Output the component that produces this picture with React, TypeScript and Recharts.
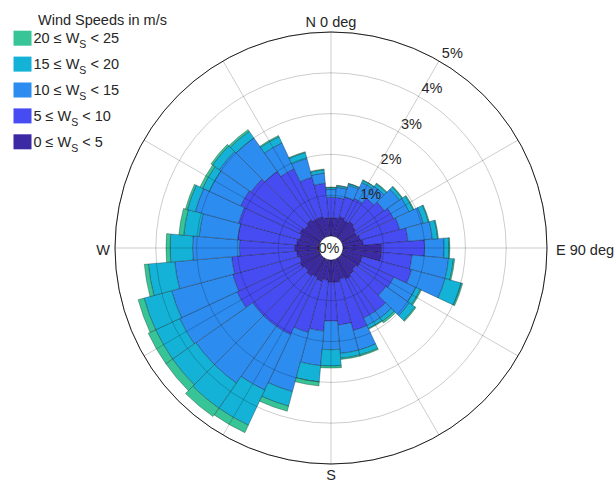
import React from 'react';
import {
  RadialBarChart,
  RadialBar,
  PolarAngleAxis,
  PolarRadiusAxis,
  PolarGrid,
} from 'recharts';

// Direction bins (compass degrees, bin centres)
const directions = [
  0, 10, 20, 30, 40, 50, 60, 70, 80, 90, 100, 110, 120, 130, 140, 150, 160, 170,
  180, 190, 200, 210, 220, 230, 240, 250, 260, 270, 280, 290, 300, 310, 320, 330, 340, 350,
];

// Frequency (%) of each speed class per direction
const speed0to5 = [
  0.45, 0.45, 0.5, 0.45, 0.5, 0.45, 0.4, 0.45, 0.5, 0.95, 0.95, 0.5, 0.5, 0.45, 0.5, 0.55, 0.5, 0.55,
  0.55, 0.5, 0.55, 0.5, 0.55, 0.5, 0.55, 0.5, 0.55, 0.6, 0.55, 0.5, 0.55, 0.5, 0.55, 0.5, 0.5, 0.45,
];
const speed5to10 = [
  0.5, 0.5, 0.5, 0.6, 0.7, 0.85, 1.0, 1.0, 1.1, 1.05, 0.75, 1.25, 0.9, 0.9, 1.1, 1.05, 1.3, 1.05,
  0.95, 1.25, 1.3, 1.55, 1.5, 1.55, 1.7, 1.7, 1.6, 1.35, 1.45, 1.55, 1.6, 1.6, 1.45, 1.35, 1.0, 0.85,
];
const speed10to15 = [
  0.2, 0.25, 0.3, 0.43, 0.35, 0.45, 0.42, 0.6, 0.6, 0.48, 0.9, 0.85, 0.6, 0.7, 0.2, 0.2, 0.5, 0.7,
  0.7, 0.85, 1.5, 1.5, 1.7, 1.7, 1.55, 1.55, 1.4, 1.15, 0.95, 1.1, 0.85, 0.95, 1.0, 0.7, 0.48, 0.25,
];
const speed15to20 = [
  0.04, 0.04, 0.04, 0.06, 0.08, 0.08, 0.11, 0.13, 0.13, 0.12, 0.12, 0.42, 0.12, 0.17, 0.1, 0.08, 0.12, 0.12,
  0.4, 0.4, 0.37, 0.95, 0.75, 0.7, 0.65, 0.7, 0.65, 0.55, 0.38, 0.2, 0.18, 0.2, 0.2, 0.17, 0.15, 0.08,
];
const speed20to25 = [
  0.01, 0.01, 0.01, 0.01, 0.02, 0.02, 0.02, 0.02, 0.02, 0.02, 0.03, 0.03, 0.03, 0.03, 0.05, 0.02, 0.03, 0.03,
  0.05, 0.1, 0.13, 0.2, 0.25, 0.2, 0.2, 0.15, 0.1, 0.1, 0.12, 0.05, 0.07, 0.05, 0.05, 0.03, 0.02, 0.02,
];

const speedBounds = [0, 5, 10, 15, 20, 25];
const seriesKeys = ['s0', 's1', 's2', 's3', 's4'];
const seriesColors = ['#3b2aa4', '#474cf2', '#2d8cf0', '#14b2d6', '#37c598'];
const radiusTicks = [0, 1, 2, 3, 4, 5];
const gridCompassAngles = [0, 30, 60, 90, 120, 150, 180, 210, 240, 270, 300, 330];
const cardinalLabels: Record<number, string> = { 0: 'N 0 deg', 90: 'E 90 deg', 180: 'S', 270: 'W' };

const seriesValues = [speed0to5, speed5to10, speed10to15, speed15to20, speed20to25];
const data = directions.map((dir, i) => {
  const row: Record<string, number> = { dir };
  seriesKeys.forEach((k, s) => {
    row[k] = seriesValues[s][i];
  });
  return row;
});

const CX = 331;
const CY = 248;
const BIN_HALF = 5; // half of the 10 degree bin width
const FONT = '"Liberation Sans", Arial, Helvetica, sans-serif';
const TEXT = '#262626';

// rotate a point counter-clockwise (screen) around the chart centre
const rotate = (x: number, y: number, deg: number) => {
  const t = (deg * Math.PI) / 180;
  const X = x - CX;
  const Y = CY - y;
  const X2 = X * Math.cos(t) - Y * Math.sin(t);
  const Y2 = X * Math.sin(t) + Y * Math.cos(t);
  return { x: CX + X2, y: CY - Y2 };
};

const AngleTick = (props: any) => {
  const { payload } = props;
  const label = cardinalLabels[payload?.value];
  if (!label) return <g />;
  // band ticks sit at the band edge; move them to the bin centre
  const p = rotate(props.x, props.y, BIN_HALF);
  let anchor: 'start' | 'middle' | 'end' = 'middle';
  let dx = 0;
  let dy = 0;
  if (payload.value === 0) {
    dy = 3;
  } else if (payload.value === 90) {
    anchor = 'start';
    dx = 1;
    dy = 6.5;
  } else if (payload.value === 180) {
    dy = 8;
  } else {
    anchor = 'end';
    dx = 3;
    dy = 6.5;
  }
  return (
    <text x={p.x + dx} y={p.y + dy} textAnchor={anchor} fontSize={14.5} fontFamily={FONT} fill={TEXT}>
      {label}
    </text>
  );
};

const RadiusTick = (props: any) => {
  const { x, y, payload } = props;
  const v = payload?.value;
  const isZero = v === 0;
  return (
    <text
      x={isZero ? x - 8 : x + 13.3}
      y={isZero ? y + 15 : y - 3}
      textAnchor="middle"
      fontSize={14.5}
      fontFamily={FONT}
      fill={TEXT}
    >
      {`${v}%`}
    </text>
  );
};

const LegendOverlay = () => {
  const rows = seriesKeys
    .map((k, i) => ({ key: k, lo: speedBounds[i], hi: speedBounds[i + 1], color: seriesColors[i] }))
    .reverse();
  return (
    <svg width={200} height={160} style={{ position: 'absolute', left: 0, top: 0 }}>
      <text x={38} y={24.5} fontSize={14.5} fontFamily={FONT} fill={TEXT}>
        Wind Speeds in m/s
      </text>
      {rows.map((r, i) => {
        const base = 43.2 + i * 25.9;
        return (
          <g key={r.key}>
            <rect x={13.5} y={base - 12.5} width={18} height={15} fill={r.color} />
            <text x={33.5} y={base} fontSize={14.5} fontFamily={FONT} fill={TEXT}>
              {`${r.lo} ≤ W`}
              <tspan fontSize={10.5} dy={5}>S</tspan>
              <tspan dy={-5}>{` < ${r.hi}`}</tspan>
            </text>
          </g>
        );
      })}
    </svg>
  );
};

export default function App() {
  return (
    <div style={{ position: 'absolute', left: 0, top: 0, width: 615, height: 485, background: '#fff' }}>
      <RadialBarChart
        width={615}
        height={485}
        data={data}
        layout="centric"
        cx={CX}
        cy={CY}
        innerRadius={12}
        outerRadius={216}
        startAngle={90 - BIN_HALF}
        endAngle={90 - BIN_HALF - 360}
        barCategoryGap={0}
        margin={{ top: 0, right: 0, bottom: 0, left: 0 }}
        style={{ fontFamily: FONT }}
      >
        <PolarAngleAxis
          type="category"
          dataKey="dir"
          axisLineType="circle"
          axisLine={{ stroke: '#262626', strokeWidth: 1 }}
          tickLine={false}
          tick={(p: any) => <AngleTick {...p} />}
        />
        {seriesKeys.map((k, i) => (
          <RadialBar
            key={k}
            dataKey={k}
            stackId="wind"
            fill={seriesColors[i]}
            stroke="rgba(0,0,0,0.4)"
            strokeWidth={0.7}
            isAnimationActive={false}
          />
        ))}
        <PolarGrid
          gridType="circle"
          polarAngles={gridCompassAngles.map((a) => 90 - a)}
          stroke="#000"
          strokeOpacity={0.2}
          zIndex={900}
        />
        <PolarRadiusAxis
          type="number"
          domain={[0, 5]}
          ticks={radiusTicks}
          tickCount={6}
          angle={60}
          axisLine={false}
          tickLine={false}
          tick={(p: any) => <RadiusTick {...p} />}
          zIndex={1000}
        />
      </RadialBarChart>
      <LegendOverlay />
    </div>
  );
}
